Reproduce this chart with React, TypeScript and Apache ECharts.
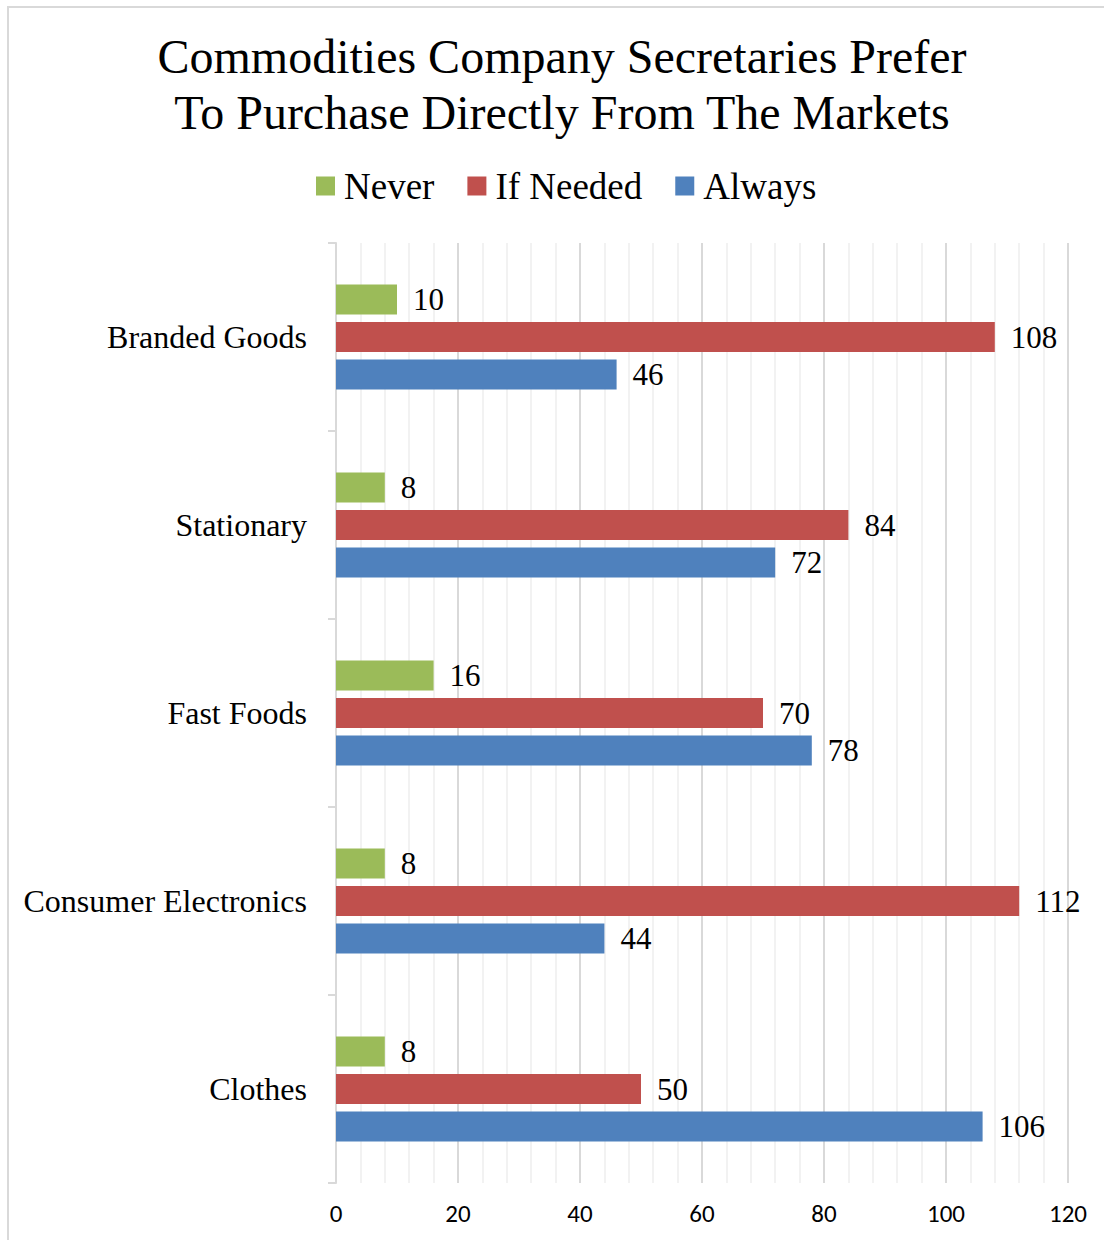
import React, { useEffect, useRef } from "react";
import * as echarts from "echarts";

const categories = ["Branded Goods", "Stationary", "Fast Foods", "Consumer Electronics", "Clothes"];
const neverValues = [10, 8, 16, 8, 8];
const ifNeededValues = [108, 84, 70, 112, 50];
const alwaysValues = [46, 72, 78, 44, 106];
const seriesNames = ["Never", "If Needed", "Always"];
const seriesColors = ["#9BBB59", "#C0504D", "#4F81BD"];
const titleText = "Commodities Company Secretaries Prefer\nTo Purchase Directly From The Markets";

const SERIF = '"Liberation Serif", "Times New Roman", serif';
const SANS = 'Carlito, "Liberation Sans", Arial, sans-serif';

export default function App() {
  const ref = useRef<HTMLDivElement>(null);
  useEffect(() => {
    if (!ref.current) return;
    const chart = echarts.init(ref.current, undefined, { renderer: "svg" });
    const values = [neverValues, ifNeededValues, alwaysValues];
    chart.setOption({
      animation: false,
      backgroundColor: "#ffffff",
      title: {
        text: titleText,
        left: 562,
        textAlign: "center",
        top: 28,
        padding: 0,
        textStyle: {
          fontFamily: SERIF,
          fontSize: 48,
          fontWeight: "normal",
          color: "#000000",
          lineHeight: 56,
        },
      },
      legend: {
        data: seriesNames,
        left: 316,
        top: 166,
        padding: 0,
        icon: "rect",
        itemWidth: 19,
        itemHeight: 19,
        itemGap: 33,
        textStyle: {
          fontFamily: SERIF,
          fontSize: 37,
          color: "#000000",
          lineHeight: 40,
          padding: [0, 0, 0, 4],
        },
      },
      graphic: [
        {
          type: "rect",
          shape: { x: 8, y: 7, width: 1200, height: 1300 },
          style: { fill: "none", stroke: "#d9d9d9", lineWidth: 2 },
          silent: true,
        },
      ],
      grid: { left: 336, right: 36, top: 243, bottom: 57, containLabel: false },
      xAxis: {
        type: "value",
        min: 0,
        max: 120,
        interval: 20,
        axisLine: { show: false },
        axisTick: { show: false },
        axisLabel: { fontFamily: SANS, fontSize: 25, color: "#000000", margin: 18 },
        splitLine: { show: true, lineStyle: { color: "#d9d9d9", width: 2 } },
        minorTick: { show: false, splitNumber: 5 },
        minorSplitLine: { show: true, lineStyle: { color: "#f2f2f2", width: 2 } },
      },
      yAxis: {
        type: "category",
        data: categories,
        inverse: true,
        axisLine: { show: true, lineStyle: { color: "#d9d9d9", width: 2 } },
        axisTick: { show: true, length: 8, lineStyle: { color: "#d9d9d9", width: 2 } },
        axisLabel: { fontFamily: SERIF, fontSize: 32, color: "#000000", margin: 29 },
        splitLine: { show: false },
      },
      series: seriesNames.map((name, i) => ({
        name,
        type: "bar",
        data: values[i],
        barWidth: 30,
        barGap: "25%",
        itemStyle: { color: seriesColors[i] },
        label: {
          show: true,
          position: "right",
          distance: 16,
          fontFamily: SERIF,
          fontSize: 31,
          color: "#000000",
        },
      })),
    });
    return () => chart.dispose();
  }, []);
  return (
    <div
      ref={ref}
      style={{ position: "absolute", left: 0, top: 0, width: 1104, height: 1240 }}
    />
  );
}
